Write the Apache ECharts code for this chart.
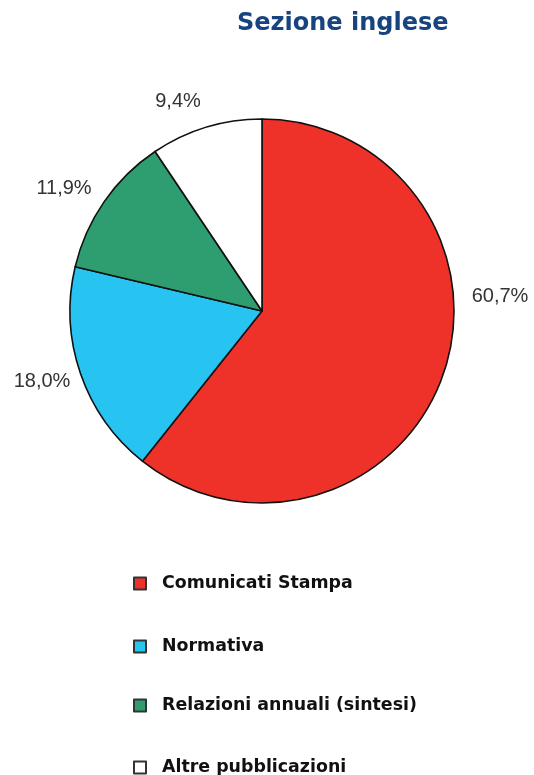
<!DOCTYPE html>
<html>
<head>
<meta charset="utf-8">
<style>
  html, body { margin: 0; padding: 0; background: #fff; }
  #chart { width: 534px; height: 775px; }
</style>
<script src="https://cdn.jsdelivr.net/npm/echarts@6/dist/echarts.min.js"></script>
</head>
<body>
<div id="chart"></div>
<script>
// Publication types in the English section (share of items, %)
const categories = ['Comunicati Stampa', 'Normativa', 'Relazioni annuali (sintesi)', 'Altre pubblicazioni'];
const shares = [60.7, 18.0, 11.9, 9.4];
const sliceColors = ['#ee3229', '#27c3f1', '#2e9e70', '#ffffff'];

// Label anchor points around the pie, one per slice
const labelAnchors = [[500, 296], [42, 381], [64, 188], [178, 101]];
// Vertical centres of the legend rows
const legendRows = [581, 644, 703, 765];

const chart = echarts.init(document.getElementById('chart'));

const legends = categories.map((name, i) => ({
  data: [name],
  left: 128,
  top: legendRows[i] - 11,
  itemWidth: 12,
  itemHeight: 12,
  icon: 'rect',
  itemStyle: { borderColor: '#333', borderWidth: 2 },
  textStyle: {
    fontFamily: 'DejaVu Sans',
    fontWeight: 'bold',
    fontSize: 17.4,
    color: '#111',
    padding: [0, 0, 0, 11]
  },
  selectedMode: false
}));

chart.setOption({
  animation: false,
  title: {
    text: 'Sezione inglese',
    left: 232,
    top: 7,
    textStyle: {
      fontFamily: 'DejaVu Sans',
      fontWeight: 'bold',
      fontSize: 24,
      color: '#17447f'
    }
  },
  legend: legends,
  series: [{
    type: 'pie',
    center: [262, 311],
    radius: 192,
    startAngle: 90,
    clockwise: true,
    data: categories.map((name, i) => ({
      name,
      value: shares[i],
      itemStyle: { color: sliceColors[i] }
    })),
    itemStyle: { borderColor: '#111', borderWidth: 1.6 },
    label: {
      show: true,
      position: 'outside',
      overflow: 'none',
      formatter: p => p.value.toFixed(1).replace('.', ',') + '%',
      fontFamily: 'Liberation Sans',
      fontSize: 20,
      color: '#333'
    },
    labelLine: { show: false },
    labelLayout: p => ({
      x: labelAnchors[p.dataIndex][0],
      y: labelAnchors[p.dataIndex][1],
      align: 'center',
      verticalAlign: 'middle'
    }),
    emphasis: { disabled: true }
  }]
});
</script>
</body>
</html>
